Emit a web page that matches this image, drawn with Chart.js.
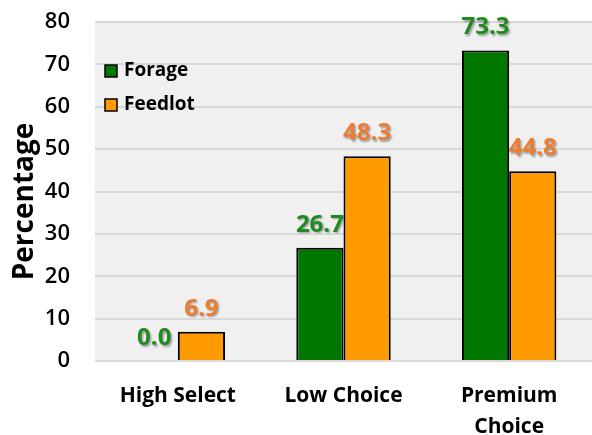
<!DOCTYPE html>
<html>
<head>
<meta charset="utf-8">
<script src="https://cdn.jsdelivr.net/npm/chart.js@4.4.1/dist/chart.umd.min.js"></script>
<style>
  html, body { margin: 0; padding: 0; background: #fff; }
  #wrap { width: 592px; height: 435px; position: relative; }
</style>
</head>
<body>
<div id="wrap"><canvas id="chart"></canvas></div>
<script>
// data
const categories = ["High Select", "Low Choice", ["Premium", "Choice"]];
const forage = [0.0, 26.7, 73.3];
const feedlot = [6.9, 48.3, 44.8];
const seriesNames = ["Forage", "Feedlot"];
const yTitle = "Percentage";
const yMin = 0;
const yMax = 80;
const yStep = 10;

const FONT = "'Open Sans', 'DejaVu Sans', sans-serif";
const barColors = ["#007800", "#ff9a00"];
const labelColors = ["#1f8a1f", "#ed7d31"];

// light gray plot background
const plotBg = {
  id: "plotBg",
  beforeDraw(chart) {
    const { ctx, chartArea: a } = chart;
    ctx.save();
    ctx.fillStyle = "#f0f0f0";
    ctx.fillRect(a.left, a.top, a.right - a.left, a.bottom - a.top);
    ctx.restore();
  },
};

// value labels above each bar, with a soft shadow
const valueLabels = {
  id: "valueLabels",
  afterDatasetsDraw(chart) {
    const ctx = chart.ctx;
    ctx.save();
    ctx.font = "bold 24px " + FONT;
    ctx.textAlign = "center";
    ctx.textBaseline = "alphabetic";
    ctx.shadowColor = "rgba(0,0,0,0.35)";
    ctx.shadowOffsetX = 1.5;
    ctx.shadowOffsetY = 1.5;
    ctx.shadowBlur = 2;
    chart.data.datasets.forEach((ds, i) => {
      const meta = chart.getDatasetMeta(i);
      ctx.fillStyle = labelColors[i];
      meta.data.forEach((bar, j) => {
        ctx.fillText(ds.data[j].toFixed(1), bar.x, bar.y - 16);
      });
    });
    ctx.restore();
  },
};

// legend drawn inside the plot, top left
const innerLegend = {
  id: "innerLegend",
  afterDraw(chart) {
    const { ctx, chartArea: a } = chart;
    ctx.save();
    ctx.font = "bold 19px " + FONT;
    ctx.textBaseline = "middle";
    chart.data.datasets.forEach((ds, i) => {
      const x = a.left + 10;
      const y = a.top + 49 + i * 34;
      ctx.fillStyle = ds.backgroundColor;
      ctx.fillRect(x, y - 6, 12, 12);
      ctx.strokeStyle = "#000";
      ctx.lineWidth = 1.5;
      ctx.strokeRect(x, y - 6, 12, 12);
      ctx.fillStyle = "#000";
      ctx.fillText(ds.label, x + 19, y);
    });
    ctx.restore();
  },
};

// y axis title, sits a little below the plot's middle like the original
const axisTitle = {
  id: "axisTitle",
  afterDraw(chart) {
    const { ctx, chartArea: a } = chart;
    ctx.save();
    ctx.translate(33, (a.top + a.bottom) / 2 + 10);
    ctx.rotate(-Math.PI / 2);
    ctx.font = "bold 28px " + FONT;
    ctx.textAlign = "center";
    ctx.textBaseline = "alphabetic";
    ctx.fillStyle = "#000";
    ctx.fillText(yTitle, 0, 0);
    ctx.restore();
  },
};

new Chart(document.getElementById("chart"), {
  type: "bar",
  data: {
    labels: categories,
    datasets: [
      {
        label: seriesNames[0],
        data: forage,
        backgroundColor: barColors[0],
        borderColor: "#000",
        borderWidth: 2,
      },
      {
        label: seriesNames[1],
        data: feedlot,
        backgroundColor: barColors[1],
        borderColor: "#000",
        borderWidth: 2,
      },
    ],
  },
  options: {
    responsive: true,
    maintainAspectRatio: false,
    animation: false,
    layout: { padding: { top: 22, right: 0, left: 0, bottom: 0 } },
    datasets: {
      bar: { categoryPercentage: 0.57, barPercentage: 1 },
    },
    plugins: {
      legend: { display: false },
      tooltip: { enabled: false },
    },
    scales: {
      x: {
        grid: { display: false },
        border: { display: false },
        ticks: {
          color: "#000",
          font: { family: FONT, size: 21, weight: "bold", lineHeight: 1.45 },
          padding: 12,
        },
        afterFit(scale) {
          scale.height = 74;
        },
      },
      y: {
        min: yMin,
        max: yMax,
        border: { display: false },
        grid: { color: "#d9d9d9", lineWidth: 2, drawTicks: false },
        ticks: {
          stepSize: yStep,
          color: "#000",
          padding: 25,
          font: { family: FONT, size: 22, weight: 600 },
        },
        afterFit(scale) {
          scale.width = 95;
          // tick padding is horizontal here; don't let it push the plot down
          scale.paddingTop = 0;
          scale.paddingBottom = 0;
        },
      },
    },
  },
  plugins: [plotBg, valueLabels, innerLegend, axisTitle],
});
</script>
</body>
</html>
